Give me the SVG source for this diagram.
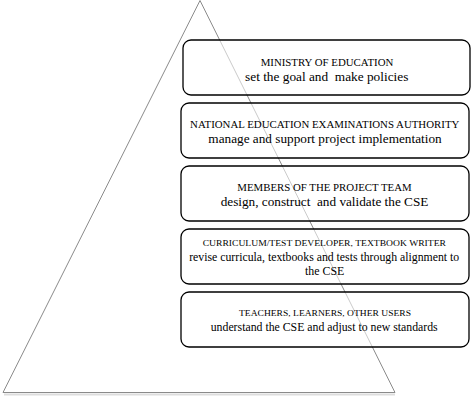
<svg xmlns="http://www.w3.org/2000/svg" width="471" height="400" viewBox="0 0 471 400">
<style>
.box{fill:#fff;fill-opacity:0.55;stroke:#000;stroke-width:1.3}
.cap{font-family:"Liberation Serif",serif;font-size:9.5px;fill:#000;text-anchor:middle;white-space:pre}
.sc{font-size:8.8px}
.txt{font-family:"Liberation Serif",serif;font-size:13px;fill:#000;text-anchor:middle;white-space:pre}
.nar{font-size:11.8px}
</style>
<rect width="471" height="400" fill="#fff"/>
<g id="pyramid">
<line x1="4" y1="394.5" x2="395" y2="394.5" stroke="#ddd" stroke-width="2"/>
<polygon points="200,0.5 3,392.5 395,392.5" fill="none" stroke="#8a8a8a" stroke-width="1"/>
</g>
<g id="connectors"></g>
<g id="n1">
<rect class="box" x="183" y="40" width="287" height="55" rx="8"/>
<text class="cap" x="327" y="65.5" textLength="132.7" lengthAdjust="spacingAndGlyphs">MINISTRY OF EDUCATION</text>
<text class="txt" x="326.7" y="81" xml:space="preserve" textLength="163.3" lengthAdjust="spacingAndGlyphs">set the goal and  make policies</text>
</g>
<g id="n2">
<rect class="box" x="181" y="103" width="288" height="55" rx="8"/>
<text class="cap" x="324.7" y="127.5" textLength="269.3" lengthAdjust="spacingAndGlyphs">NATIONAL EDUCATION EXAMINATIONS AUTHORITY</text>
<text class="txt" x="325" y="142.5" textLength="233.3" lengthAdjust="spacingAndGlyphs">manage and support project implementation</text>
</g>
<g id="n3">
<rect class="box" x="181" y="166" width="288" height="55" rx="8"/>
<text class="cap" x="324.5" y="190.5" textLength="174.3" lengthAdjust="spacingAndGlyphs">MEMBERS OF THE PROJECT TEAM</text>
<text class="txt" x="324.5" y="205.5" xml:space="preserve" textLength="207.7" lengthAdjust="spacingAndGlyphs">design, construct  and validate the CSE</text>
</g>
<g id="n4">
<rect class="box" x="181" y="229" width="288" height="55" rx="8"/>
<text class="cap sc" x="324.3" y="245.5" textLength="243.3" lengthAdjust="spacingAndGlyphs">CURRICULUM/TEST DEVELOPER, TEXTBOOK WRITER</text>
<text class="txt nar" x="324.2" y="260.5" textLength="270" lengthAdjust="spacingAndGlyphs">revise curricula, textbooks and tests through alignment to</text>
<text class="txt" x="324.7" y="275" textLength="39.3" lengthAdjust="spacingAndGlyphs">the CSE</text>
</g>
<g id="n5">
<rect class="box" x="181" y="292" width="288" height="55" rx="8"/>
<text class="cap sc" x="325" y="315.5" textLength="172" lengthAdjust="spacingAndGlyphs">TEACHERS, LEARNERS, OTHER USERS</text>
<text class="txt" x="324.2" y="331" textLength="227" lengthAdjust="spacingAndGlyphs">understand the CSE and adjust to new standards</text>
</g>
</svg>
